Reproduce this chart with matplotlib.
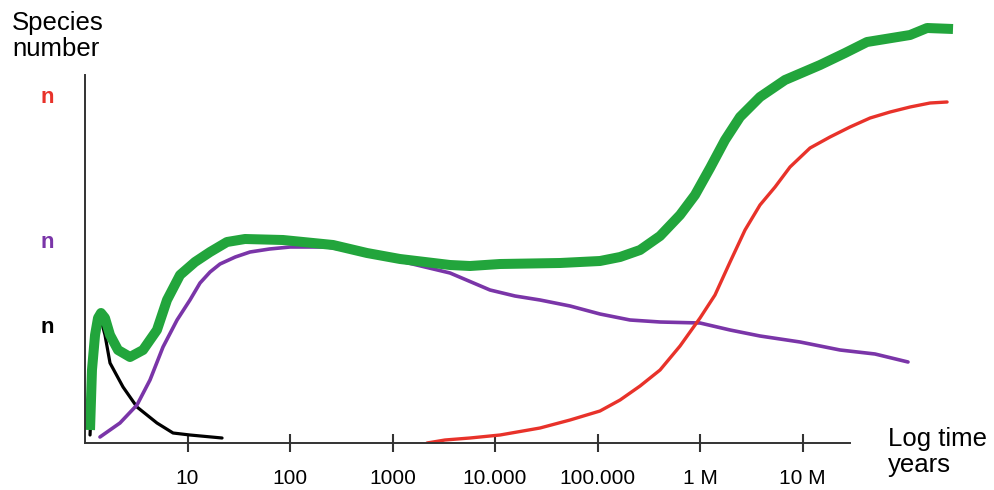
import matplotlib
matplotlib.use("Agg")
import matplotlib.pyplot as plt
import numpy as np

plt.rcParams['font.family'] = ['Liberation Sans', 'DejaVu Sans']

# curves: x as log10(years), y in arbitrary species units
green_logt = [0.049, 0.068, 0.098, 0.127, 0.156, 0.195, 0.244, 0.322, 0.439, 0.566, 0.702, 0.800,
              0.927, 1.073, 1.220, 1.385, 1.561, 1.932, 2.420, 2.751, 3.073, 3.561, 3.756, 4.049,
              4.634, 5.024, 5.220, 5.415, 5.610, 5.805, 5.951, 6.098, 6.244, 6.390, 6.585, 6.829,
              7.171, 7.415, 7.629, 8.049, 8.215, 8.468]
green_y = [13, 73, 108, 125, 130, 125, 108, 93, 86, 93, 113, 143,
           168, 181, 191, 201, 204, 203, 198, 190, 184, 178, 177, 179,
           180, 182, 186, 193, 207, 228, 248, 275, 303, 326, 346, 363,
           378, 390, 401, 408, 415, 414]

purple_logt = [0.146, 0.341, 0.507, 0.634, 0.761, 0.898, 1.024, 1.122, 1.220, 1.317, 1.466, 1.610,
               1.800, 2.0, 2.361, 2.780, 3.073, 3.561, 3.951, 4.195, 4.439, 4.732, 5.024, 5.317,
               5.610, 6.0, 6.293, 6.585, 6.976, 7.366, 7.707, 8.029]
purple_y = [6, 20, 38, 63, 96, 123, 143, 160, 171, 179, 186, 191,
            194, 196, 196, 189, 182, 170, 153, 147, 143, 137, 129, 123,
            121, 120, 113, 107, 101, 93, 89, 81]

black_logt = [0.049, 0.098, 0.146, 0.195, 0.244, 0.371, 0.507, 0.702, 0.859, 1.024, 1.337]
black_y = [8, 113, 127, 108, 80, 56, 36, 20, 10, 8, 5]

red_logt = [3.337, 3.512, 3.756, 4.049, 4.439, 4.732, 5.024, 5.220, 5.415, 5.610, 5.805, 6.0,
            6.146, 6.293, 6.439, 6.585, 6.732, 6.878, 7.073, 7.268, 7.463, 7.659, 7.854, 8.049,
            8.244, 8.410]
red_y = [0, 3, 5, 8, 15, 23, 32, 43, 57, 73, 97, 125,
         148, 181, 213, 238, 256, 276, 295, 306, 316, 325, 331, 336,
         340, 341]

xtick_years = [1e1, 1e2, 1e3, 1e4, 1e5, 1e6, 1e7]
xtick_labels = ['10', '100', '1000', '10.000', '100.000', '1 M', '10 M']
ytick_vals = [348, 203, 118]
ytick_labels = ['n', 'n', 'n']
ytick_colors = ['#e8322a', '#7a35a8', 'black']

fig = plt.figure(figsize=(9.95, 4.9), dpi=100)
ax = fig.add_axes([85 / 995, 47 / 490, 880 / 995, 423 / 490])

ax.plot(10 ** np.array(black_logt), black_y, color='black', lw=2.3, solid_capstyle='round')
ax.plot(10 ** np.array(purple_logt), purple_y, color='#7a35a8', lw=2.6, solid_capstyle='round')
ax.plot(10 ** np.array(red_logt), red_y, color='#e8322a', lw=2.4, solid_capstyle='round')
ax.plot(10 ** np.array(green_logt), green_y, color='#22a53c', lw=7.2,
        solid_capstyle='butt', solid_joinstyle='round')

ax.set_xscale('log')
ax.set_xlim(1, 10 ** 8.585)
ax.set_ylim(0, 423)
ax.minorticks_off()

for s in ['top', 'right']:
    ax.spines[s].set_visible(False)
for s in ['left', 'bottom']:
    ax.spines[s].set_color('#333333')
    ax.spines[s].set_linewidth(1.4)
ax.spines['left'].set_bounds(0, 368)
ax.spines['bottom'].set_bounds(1, 10 ** 7.46)

ax.set_xticks(xtick_years)
ax.set_xticklabels(xtick_labels)
ax.tick_params(axis='x', direction='inout', length=13, width=1.5, color='#333333',
               labelsize=15, pad=12)

ax.set_yticks(ytick_vals)
ax.set_yticklabels(ytick_labels)
ax.tick_params(axis='y', length=0, labelsize=16, pad=22)
for lab, c in zip(ax.get_yticklabels(), ytick_colors):
    lab.set_color(c)
    lab.set_fontweight('bold')

fig.text(12 / 995, 1 - 11 / 490, 'Species\nnumber', fontsize=18.5, va='top', ha='left',
         linespacing=1.1)
fig.text(888 / 995, 1 - 427 / 490, 'Log time\nyears', fontsize=18.5, va='top', ha='left',
         linespacing=1.1)

fig.savefig('out.png', dpi=100)
